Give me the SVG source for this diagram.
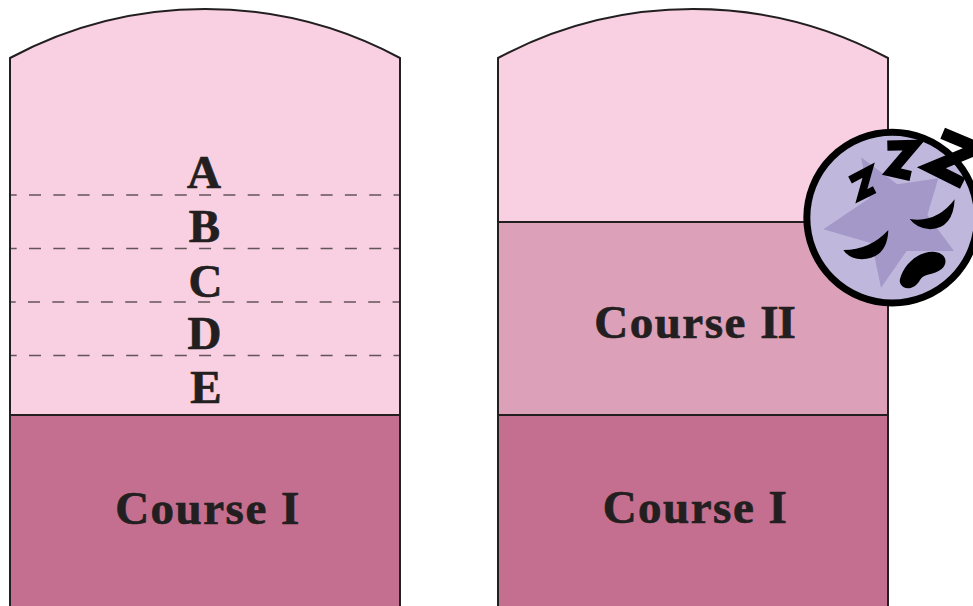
<svg xmlns="http://www.w3.org/2000/svg" width="973" height="606" viewBox="0 0 973 606">
<style>
.o{stroke:#231f20;stroke-width:2;fill:none}
.d{stroke:#231f20;stroke-width:1.5;stroke-opacity:.7;stroke-dasharray:12 12.3;stroke-dashoffset:6.3;fill:none}
.t{font-family:"Liberation Serif","Times New Roman",serif;font-weight:700;font-size:47px;fill:#231f20;stroke:#231f20;stroke-width:.7px;text-anchor:middle}
.c{letter-spacing:1.5px}
.z{fill:none;stroke:#000;stroke-linejoin:miter;stroke-miterlimit:8}
</style>
<rect width="973" height="606" fill="#fff"/>
<g id="left-column">
<path d="M10 58A412.5 412.5 0 0 1 400 58V415H10Z" fill="#f9d0e1"/>
<rect x="10" y="415" width="390" height="191" fill="#c46f90"/>
<path class="o" d="M10 606V58A412.5 412.5 0 0 1 400 58V606M10 415H400"/>
<g id="dividers">
<path class="d" d="M11 195H399M11 248.500H399"/>
<path class="d" style="stroke-dashoffset:7.3" d="M11 302H399"/>
<path class="d" d="M11 355.500H399"/>
</g>
<g id="labels">
<text class="t" x="204" y="188">A</text>
<text class="t" x="204.500" y="242">B</text>
<text class="t" x="205.500" y="297">C</text>
<text class="t" x="204.500" y="349">D</text>
<text class="t" x="206" y="403">E</text>
</g>
<text id="course-1-left" class="t c" x="208" y="524">Course I</text>
</g>
<g id="right-column">
<path d="M498 58A412.5 412.500 0 0 1 888 58V222H498Z" fill="#f9d0e1"/>
<rect x="498" y="222" width="390" height="193" fill="#dca1b8"/>
<rect x="498" y="415" width="390" height="191" fill="#c46f90"/>
<path class="o" d="M498 606V58A412.5 412.5 0 0 1 888 58V606M498 222H888M498 415H888"/>
<text id="course-2" class="t c" x="694.500" y="338">Course <tspan letter-spacing="-1">II</tspan></text>
<text id="course-1-right" class="t c" x="695.500" y="523">Course I</text>
</g>
<g id="sleeping-face" transform="translate(790 115) scale(.33333)">
<circle cx="306.500" cy="308" r="256" fill="#bfb8dc" stroke="#000" stroke-width="21"/>
<path fill="#a498c9" d="M213 127L322 208L445 190L412 300L492 408L350 408L273 518L245 385L100 343L238 250Z"/>
<path class="z" stroke-width="23" d="M180 195L236 165L214 244L254 224"/>
<path class="z" stroke-width="31" d="M292 92L372 90L304 170L362 183"/>
<path class="z" stroke-width="36" d="M458 55L565 100L424 158L518 205"/>
<path fill="#000" d="M160 405Q240 405 295 345Q292 430 215 433Q175 430 160 405Z"/>
<path fill="#000" d="M359 312Q440 325 494 253Q490 340 420 343Q380 340 359 312Z"/>
<path fill="#000" d="M330 492C340 450 385 408 430 410C465 412 478 440 455 462C430 482 405 472 390 495C378 518 355 525 340 516C330 510 328 500 330 492Z"/>
</g>
</svg>
